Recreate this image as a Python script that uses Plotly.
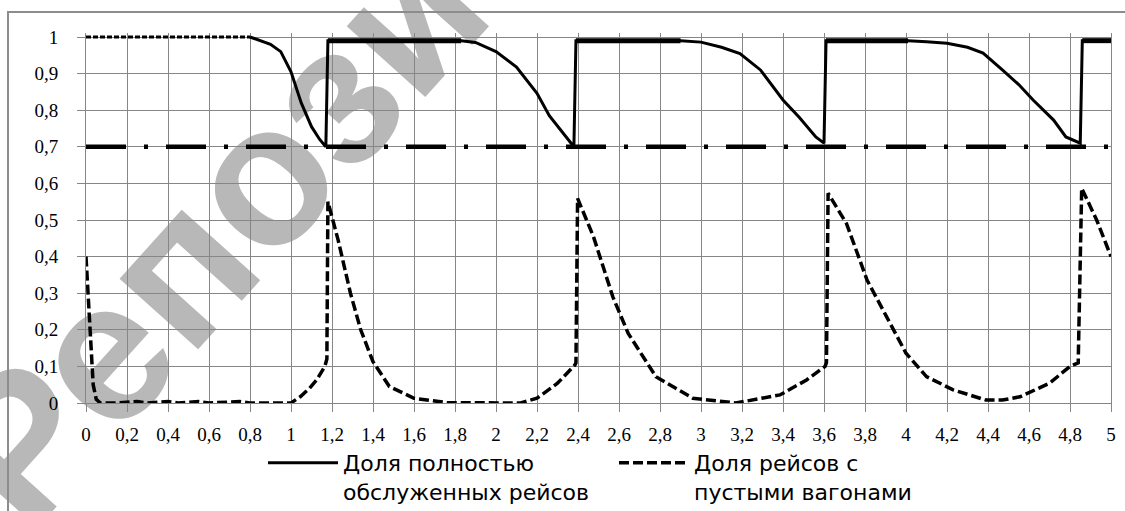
import plotly.graph_objects as go

# ---- data ----
full_x = [0.80, 0.85, 0.90, 0.95, 1.00, 1.05, 1.10, 1.14, 1.17, 1.18, 1.83, 1.90, 2.00, 2.10, 2.20, 2.26,
          2.33, 2.38, 2.39, 2.90, 3.00, 3.10, 3.19, 3.29, 3.40, 3.48, 3.56, 3.60, 3.61, 4.01, 4.10, 4.20,
          4.30, 4.376, 4.47, 4.55, 4.62, 4.72, 4.78, 4.85, 4.86, 5.00]
full_y = [1.00, 0.99, 0.98, 0.96, 0.905, 0.82, 0.755, 0.72, 0.70, 0.99, 0.99, 0.985, 0.96, 0.918, 0.846, 0.785,
          0.737, 0.70, 0.99, 0.99, 0.986, 0.972, 0.955, 0.91, 0.828, 0.78, 0.727, 0.71, 0.99, 0.99, 0.987, 0.983,
          0.972, 0.956, 0.91, 0.87, 0.828, 0.773, 0.727, 0.71, 0.99, 0.99]

start_x = [0.0, 0.80]
start_y = [1.0, 1.0]

top_start = [1.18, 2.39, 3.61, 4.86]
top_end = [1.83, 2.90, 4.01, 5.00]
top_level = 0.99

empty_x = [0.00, 0.01, 0.02, 0.035, 0.05, 0.07, 0.15, 0.25, 0.30, 0.40, 0.45, 0.55, 0.60, 0.75, 0.80,
           1.00, 1.045, 1.09, 1.125, 1.165, 1.175, 1.18, 1.23, 1.29, 1.34, 1.40, 1.48, 1.60, 1.76, 2.12,
           2.20, 2.30, 2.385, 2.39, 2.398, 2.475, 2.57, 2.645, 2.78, 2.96, 3.17, 3.385, 3.515, 3.605,
           3.612, 3.62, 3.71, 3.81, 3.905, 4.00, 4.10, 4.23, 4.39, 4.47, 4.556, 4.70, 4.80, 4.84,
           4.857, 4.93, 5.00]
empty_y = [0.40, 0.30, 0.17, 0.05, 0.01, 0.0, 0.0, 0.004, 0.0, 0.004, 0.0, 0.004, 0.0, 0.004, 0.0,
           0.0, 0.017, 0.04, 0.063, 0.10, 0.12, 0.55, 0.445, 0.30, 0.20, 0.113, 0.045, 0.013, 0.001, 0.0,
           0.013, 0.054, 0.104, 0.11, 0.559, 0.455, 0.29, 0.19, 0.072, 0.013, 0.0, 0.022, 0.063, 0.10,
           0.11, 0.573, 0.49, 0.336, 0.236, 0.136, 0.072, 0.036, 0.008, 0.008, 0.017, 0.054, 0.10, 0.11,
           0.587, 0.50, 0.40]

thr_x = [0.0, 5.0]
thr_y = [0.7, 0.7]

name_full = "Доля полностью<br>обслуженных рейсов"
name_empty = "Доля рейсов с<br>пустыми вагонами"
watermark = "Репозиторий"

# ---- figure ----
fig = go.Figure()

fig.add_trace(go.Scatter(x=thr_x, y=thr_y, mode="lines", showlegend=False, hoverinfo="skip",
                         line=dict(color="black", width=4.5, dash="40px,18px,4px,18px")))
fig.add_trace(go.Scatter(x=start_x, y=start_y, mode="lines", showlegend=False, hoverinfo="skip",
                         line=dict(color="black", width=3, dash="5px,2px")))
tx, ty = [], []
for s, e in zip(top_start, top_end):
    tx += [s, e, None]
    ty += [top_level, top_level, None]
fig.add_trace(go.Scatter(x=tx, y=ty, mode="lines", showlegend=False, hoverinfo="skip",
                         line=dict(color="black", width=5)))
fig.add_trace(go.Scatter(x=full_x, y=full_y, mode="lines", name=name_full,
                         line=dict(color="black", width=3)))
fig.add_trace(go.Scatter(x=empty_x, y=empty_y, mode="lines", name=name_empty,
                         line=dict(color="black", width=3.5, dash="10px,4px")))

grid = "#868686"
tickfont = dict(family="Liberation Serif", size=19, color="black")
axis_common = dict(showgrid=True, gridcolor=grid, gridwidth=1, zeroline=False,
                   showline=True, linecolor=grid, linewidth=1,
                   ticks="outside", ticklen=8, tickcolor=grid, tickwidth=1,
                   tickfont=tickfont)

# plot area: y = 1 at 37 px, y = 0 at 403 px; a little head-room above 1 so the
# line drawn at 1 is not clipped
top_px = 33
y_top = 1 + (37 - top_px) / 366

fig.update_layout(
    width=1125, height=511,
    margin=dict(l=86, r=14, t=top_px, b=108, autoexpand=False),
    paper_bgcolor="white", plot_bgcolor="rgba(0,0,0,0)",
    separators=", ",
    xaxis=dict(range=[0, 5], tick0=0, dtick=0.2, ticklabelstandoff=6, mirror=False, **axis_common),
    yaxis=dict(range=[0, y_top], tick0=0, dtick=0.1, ticklabelstandoff=15, mirror=True, **axis_common),
    legend=dict(orientation="h", xref="container", yref="container",
                x=263 / 1125, xanchor="left", y=1 - 442 / 511, yanchor="top",
                valign="top", itemwidth=70, entrywidth=266, entrywidthmode="pixels",
                font=dict(family="DejaVu Sans", size=22, color="black"),
                bgcolor="rgba(0,0,0,0)"),
    shapes=[
        dict(type="rect", xref="paper", yref="paper", x0=0.294, x1=0.306,
             y0=(403 - 0 - 2) / (511 - top_px - 108) * 1.0 + 0.0, y1=(403 + 2) / (511 - top_px - 108),
             line=dict(width=0), fillcolor="rgba(0,0,0,0)", layer="below",
             label=dict(text=watermark, textangle=-48, textposition="middle center",
                        font=dict(family="Liberation Sans", size=200, color="#b8b8b8",
                                  weight="bold"))),
        dict(type="rect", xref="paper", yref="paper",
             x0=(8 - 86) / 1025, x1=(1135 - 86) / 1025,
             y0=(403 - 530) / (511 - top_px - 108), y1=(403 - 12) / (511 - top_px - 108),
             line=dict(color="#8c8c8c", width=2), fillcolor="rgba(0,0,0,0)", layer="below"),
    ],
)

fig.write_html("out.html", config={"displayModeBar": False},
               post_script="document.body.style.margin='0';")
